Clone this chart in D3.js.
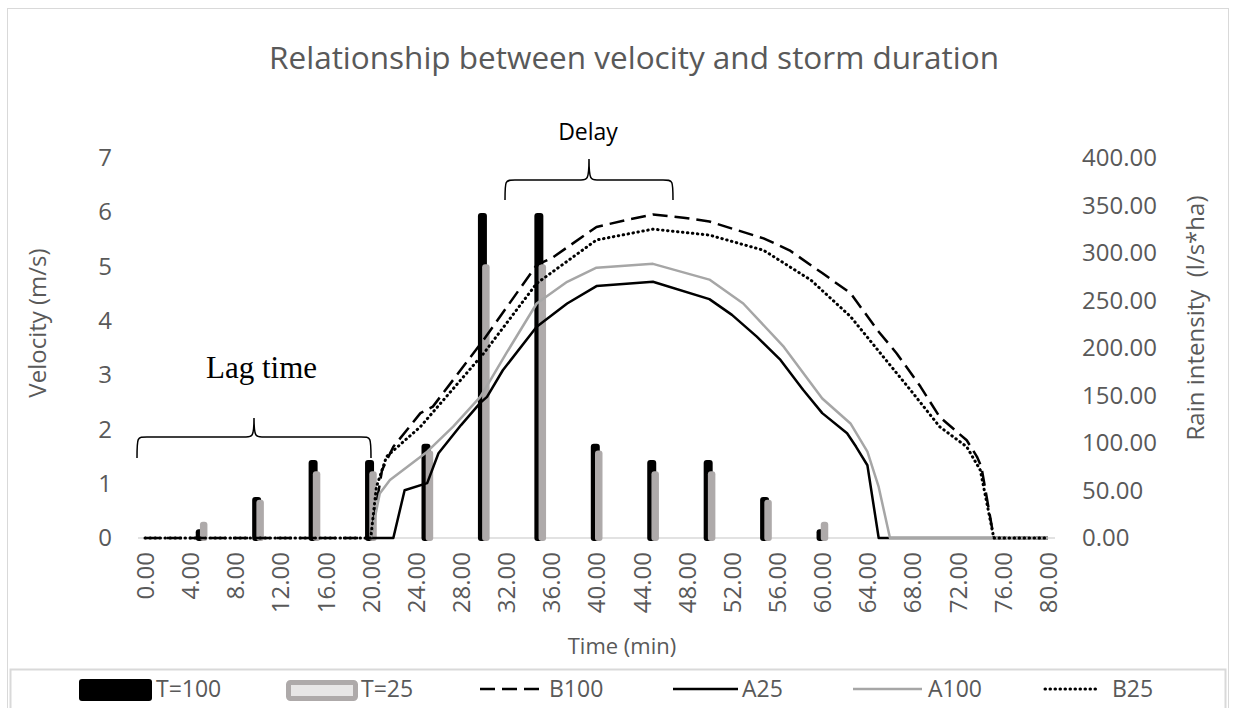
<!DOCTYPE html>
<html>
<head>
<meta charset="utf-8">
<script src="https://cdn.jsdelivr.net/npm/d3@7"></script>
<style>
body { margin: 0; background: #fff; }
text { font-family: "Open Sans", sans-serif; }
</style>
</head>
<body>
<div id="container"></div>
<script>
// rain intensity bars (l/s*ha), one bar per 5 min
const barTimes = [5, 10, 15, 20, 25, 30, 35, 40, 45, 50, 55, 60]
const rainT100 = [6, 40, 79, 79, 96, 339, 339, 96, 79, 79, 40, 6]
const rainT25 = [14, 37, 67, 67, 89, 285, 285, 89, 67, 67, 37, 14]

// velocity curves (m/s) as [time, velocity]
const velB100 = [[0,0],[20,0],[21,1.25],[22,1.68],[24.4,2.3],[25.5,2.42],[30,3.65],[34.7,5.03],[36,5.15],[40,5.73],[42.7,5.86],[45,5.96],[47.7,5.9],[50,5.83],[54.8,5.52],[57.1,5.3],[60,4.88],[62.5,4.51],[65,3.8],[66.6,3.4],[68.7,2.79],[70.4,2.23],[72.8,1.8],[73.7,1.5],[74.1,1.31],[75.2,0],[80,0]]
const velA25 = [[20,0],[22,0],[23,0.88],[25,1.01],[26,1.56],[28,2.08],[29.7,2.49],[30.3,2.6],[31.7,3.09],[34.7,3.89],[37.4,4.32],[40,4.64],[45,4.72],[50,4.4],[52,4.11],[54.2,3.71],[56.3,3.28],[58.3,2.73],[60,2.3],[62.2,1.93],[63,1.68],[64,1.34],[65,0],[80,0]]
const velA100 = [[20,0],[20.8,0.82],[21.7,1.07],[25,1.59],[27.3,2.05],[29.7,2.6],[30.6,2.91],[32,3.4],[34.7,4.32],[37.4,4.72],[40,4.98],[45,5.05],[50,4.76],[53,4.32],[56.6,3.52],[60,2.57],[62.5,2.11],[64,1.59],[65,0.94],[66,0],[80,0]]
const velB25 = [[0,0],[20,0],[20.5,0.94],[21.4,1.5],[24.4,2.05],[30,3.4],[34.7,4.69],[40,5.49],[45,5.69],[50,5.58],[54.8,5.3],[59,4.75],[62.5,4.08],[65.4,3.34],[67.8,2.73],[70.4,2.05],[72.8,1.68],[74,1.25],[75.2,0],[80,0]]

const legendNames = ["T=100", "T=25", "B100", "A25", "A100", "B25"]

let w = 1236, h = 708
let grey = "#595959"

let svg = d3.select("#container").append("svg")
    .attr("width", w)
    .attr("height", h)

// chart frame + legend box
svg.append("rect")
    .attr("x", 7.5).attr("y", 8.5)
    .attr("width", 1221).attr("height", 720)
    .attr("fill", "none").attr("stroke", "#d9d9d9")
svg.append("rect")
    .attr("x", 10.5).attr("y", 669.5)
    .attr("width", 1215).attr("height", 60)
    .attr("fill", "none").attr("stroke", "#d9d9d9").attr("stroke-width", 2)

let x = d3.scaleLinear().domain([0, 80]).range([145, 1048])
let yL = d3.scaleLinear().domain([0, 7]).range([538, 158])
let yR = d3.scaleLinear().domain([0, 400]).range([538, 158])

// title
svg.append("text")
    .text("Relationship between velocity and storm duration")
    .attr("x", 634).attr("y", 69)
    .attr("text-anchor", "middle")
    .attr("font-size", 31.5)
    .attr("fill", grey)

// category axis line
svg.append("line")
    .attr("x1", 138).attr("x2", 1055)
    .attr("y1", yL(0)).attr("y2", yL(0))
    .attr("stroke", "#d9d9d9").attr("stroke-width", 1.5)

// axes
let gx = svg.append("g").attr("transform", `translate(0,${yL(0)})`)
    .call(d3.axisBottom(x).tickValues(d3.range(0, 81, 4)).tickFormat(d3.format(".2f")).tickSize(0))
gx.select(".domain").remove()
gx.selectAll("text")
    .attr("transform", "rotate(-90)")
    .attr("x", -14).attr("y", 0).attr("dy", "0.35em")
    .attr("text-anchor", "end")
    .attr("font-size", 24).attr("font-family", "Open Sans").attr("fill", grey)

let gl = svg.append("g").attr("transform", "translate(122,0)")
    .call(d3.axisLeft(yL).ticks(7).tickFormat(d3.format("d")).tickSize(0))
gl.select(".domain").remove()
gl.selectAll("text").attr("x", -10).attr("font-size", 24).attr("font-family", "Open Sans").attr("fill", grey)

let gr = svg.append("g").attr("transform", "translate(1072,0)")
    .call(d3.axisRight(yR).tickValues(d3.range(0, 401, 50)).tickFormat(d3.format(".2f")).tickSize(0))
gr.select(".domain").remove()
gr.selectAll("text").attr("x", 10).attr("font-size", 24).attr("font-family", "Open Sans").attr("fill", grey)

svg.append("text")
    .text("Velocity (m/s)")
    .attr("transform", "translate(46,323) rotate(-90)")
    .attr("text-anchor", "middle")
    .attr("font-size", 24).attr("fill", grey)

svg.append("text")
    .text("Rain intensity  (l/s*ha)")
    .attr("transform", "translate(1204,318) rotate(-90)")
    .attr("text-anchor", "middle")
    .attr("font-size", 24).attr("fill", grey)
    .style("white-space", "pre")

svg.append("text")
    .text("Time (min)")
    .attr("x", 622).attr("y", 654)
    .attr("text-anchor", "middle")
    .attr("font-size", 22).attr("fill", grey)

// bars
svg.selectAll(".b100").data(barTimes).enter().append("rect")
    .attr("x", (d) => x(d) - 2.7)
    .attr("y", (d, i) => yR(rainT100[i]))
    .attr("width", 3)
    .attr("height", (d, i) => yR(0) - yR(rainT100[i]))
    .attr("fill", "#000").attr("stroke", "#000")
    .attr("stroke-width", 6).attr("stroke-linejoin", "round")

svg.selectAll(".b25").data(barTimes).enter().append("rect")
    .attr("x", (d) => x(d) + 1.5)
    .attr("y", (d, i) => yR(rainT25[i]))
    .attr("width", 1.5)
    .attr("height", (d, i) => yR(0) - yR(rainT25[i]))
    .attr("fill", "#e7e6e6").attr("stroke", "#aeaaaa")
    .attr("stroke-width", 6).attr("stroke-linejoin", "round")

// lines
let line = d3.line().x((d) => x(d[0])).y((d) => yL(d[1]))

let series = [
    {data: velB100, color: "#000", dash: "15 7", cap: "butt", width: 2.5},
    {data: velA25, color: "#000", dash: null, cap: "butt", width: 2.5},
    {data: velA100, color: "#a6a6a6", dash: null, cap: "butt", width: 2.5},
    {data: velB25, color: "#000", dash: "0.5 4.5", cap: "round", width: 3},
]
series.forEach((s) => {
    svg.append("path")
        .datum(s.data)
        .attr("d", line)
        .attr("fill", "none")
        .attr("stroke", s.color)
        .attr("stroke-width", s.width)
        .attr("stroke-dasharray", s.dash)
        .attr("stroke-linecap", s.cap)
        .attr("stroke-linejoin", "round")
})

// annotations
function brace(x1, x2, yTop, yEnd, yTip) {
    let m = (x1 + x2) / 2
    return `M${x1},${yEnd} C${x1},${yTop} ${x1},${yTop} ${x1 + 10},${yTop} L${m - 8},${yTop} C${m - 2},${yTop} ${m},${yTop} ${m},${yTip} ` +
        `M${m},${yTip} C${m},${yTop} ${m + 2},${yTop} ${m + 8},${yTop} L${x2 - 10},${yTop} C${x2},${yTop} ${x2},${yTop} ${x2},${yEnd}`
}
svg.append("path").attr("d", brace(137, 371, 437, 458, 418))
    .attr("fill", "none").attr("stroke", "#000").attr("stroke-width", 1.5)
svg.append("path").attr("d", brace(505, 673, 180, 200, 159))
    .attr("fill", "none").attr("stroke", "#000").attr("stroke-width", 1.5)

svg.append("text").text("Lag time")
    .attr("x", 206).attr("y", 378)
    .style("font-family", "'Liberation Serif', 'Times New Roman', serif")
    .attr("font-size", 31).attr("fill", "#000")

svg.append("text").text("Delay")
    .attr("x", 588).attr("y", 140)
    .attr("text-anchor", "middle")
    .attr("font-size", 23).attr("fill", "#000")

// legend
let lg = svg.append("g")
let ly = 689
lg.append("rect").attr("x", 79).attr("y", 679).attr("width", 73).attr("height", 22).attr("rx", 3).attr("fill", "#000")
lg.append("rect").attr("x", 288.5).attr("y", 682.5).attr("width", 67).attr("height", 16).attr("rx", 2)
    .attr("fill", "#e7e6e6").attr("stroke", "#aeaaaa").attr("stroke-width", 5)
let legLines = [[480, 545, series[0]], [673, 738, series[1]], [853, 922, series[2]], [1045, 1100, series[3]]]
legLines.forEach((l) => {
    lg.append("line").attr("x1", l[0]).attr("x2", l[1]).attr("y1", ly).attr("y2", ly)
        .attr("stroke", l[2].color).attr("stroke-width", l[2].width)
        .attr("stroke-dasharray", l[2].dash).attr("stroke-linecap", l[2].cap)
})
let legX = [156, 361, 549, 742, 928, 1112]
legendNames.forEach((n, i) => {
    lg.append("text").text(n)
        .attr("x", legX[i]).attr("y", 697)
        .attr("font-size", 23).attr("fill", grey)
})
</script>
</body>
</html>
